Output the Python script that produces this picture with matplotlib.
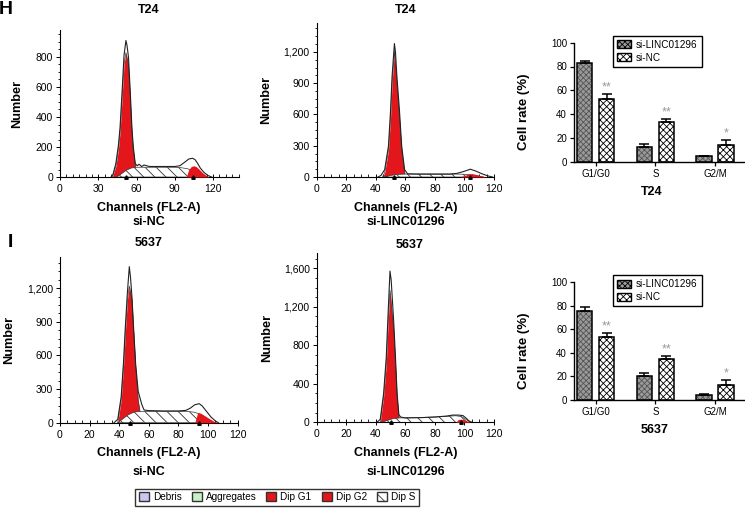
import matplotlib as mpl
mpl.use('Agg')
import matplotlib.pyplot as plt
import matplotlib.ticker as mticker
from matplotlib.patches import Patch
import numpy as np

plt.rcParams['font.family'] = ['Liberation Sans', 'DejaVu Sans']
plt.rcParams['hatch.linewidth'] = 0.6

# %% Data
# T24 si-NC histogram
t24_nc_total_x = [40, 41.5, 43.8, 45.8, 47.1, 48.7, 50.2, 51.7, 52.5, 53.7, 55.1, 56.4, 57.5, 59, 60.5, 62, 64, 66, 70, 80, 90, 94, 98, 101, 104, 106, 108, 110, 113, 116, 119]
t24_nc_total_y = [0, 15, 90, 210, 330, 570, 810, 910, 880, 800, 570, 330, 200, 90, 75, 85, 70, 80, 70, 70, 70, 75, 100, 120, 125, 115, 90, 60, 30, 10, 0]
t24_nc_g1_x = [41, 43.8, 45.8, 47.1, 48.7, 50.2, 51.7, 53.7, 55.1, 56.4, 57.4, 59.2, 60.5]
t24_nc_g1_y = [0, 70, 184, 297, 524, 750, 830, 750, 524, 297, 184, 70, 0]
t24_nc_s_x = [44, 48, 52, 56, 60, 70, 80, 90, 95, 100, 105, 110, 113]
t24_nc_s_y = [0, 20, 45, 60, 65, 65, 65, 65, 62, 55, 40, 15, 0]
t24_nc_g2_x = [99, 101, 103, 105, 107, 109, 112, 115, 117]
t24_nc_g2_y = [0, 50, 70, 75, 68, 52, 27, 8, 0]

# T24 si-LINC01296 histogram
t24_si_total_x = [41.5, 43.5, 46, 48.6, 50, 51, 52.6, 53.3, 54.3, 56, 57.5, 59.5, 61.5, 70, 80, 90, 95, 100, 104, 108, 112, 116, 119]
t24_si_total_y = [0, 15, 70, 300, 640, 960, 1280, 1200, 960, 640, 300, 70, 30, 28, 28, 28, 35, 55, 75, 55, 30, 10, 0]
t24_si_g1_x = [44.5, 46, 48.6, 50, 51, 52.6, 54.3, 56, 57.5, 59.5, 60.5]
t24_si_g1_y = [0, 40, 258, 578, 897, 1210, 897, 578, 258, 40, 0]
t24_si_s_x = [45, 50, 55, 60, 80, 95, 100, 105, 110, 113]
t24_si_s_y = [0, 15, 25, 28, 28, 28, 26, 20, 8, 0]
t24_si_g2_x = [97, 100, 103, 106, 109, 112, 115]
t24_si_g2_y = [0, 15, 30, 30, 20, 8, 0]

# 5637 si-NC histogram
c5637_nc_total_x = [36.5, 39, 41.3, 42.9, 44.1, 45.5, 46.8, 47.6, 48.6, 49.8, 51.1, 52.8, 53.8, 55.3, 56.8, 60, 70, 80, 85, 88, 91, 94, 96, 99, 102, 105, 107]
c5637_nc_total_y = [0, 30, 230, 540, 850, 1160, 1393, 1300, 1120, 820, 520, 280, 232, 160, 113, 108, 105, 105, 110, 130, 160, 170, 150, 100, 50, 15, 0]
c5637_nc_g1_x = [39, 41.3, 42.9, 44.1, 45.5, 46.8, 48.6, 49.8, 51.1, 52.8, 54, 55.5]
c5637_nc_g1_y = [0, 202, 500, 798, 1095, 1220, 1095, 798, 500, 202, 100, 0]
c5637_nc_s_x = [39, 42, 46, 50, 54, 60, 70, 80, 86, 90, 94, 98, 101, 104]
c5637_nc_s_y = [0, 30, 70, 95, 100, 100, 100, 100, 100, 95, 80, 50, 20, 0]
c5637_nc_g2_x = [91, 93, 95, 98, 101, 104, 107]
c5637_nc_g2_y = [0, 90, 85, 60, 35, 12, 0]

# 5637 si-LINC01296 histogram
c5637_si_total_x = [40.7, 43, 45.3, 47.1, 48.1, 49.6, 50.4, 52.1, 53.3, 54.4, 55.6, 56.8, 58.3, 60, 70, 80, 88, 92, 96, 99, 101, 103, 105]
c5637_si_total_y = [0, 30, 300, 680, 1050, 1571, 1480, 1050, 680, 300, 80, 55, 50, 45, 48, 55, 65, 75, 75, 70, 45, 15, 0]
c5637_si_g1_x = [43, 45.3, 47.1, 48.1, 49.6, 52.1, 53.3, 54.4, 55.6, 56.8]
c5637_si_g1_y = [0, 266, 612, 958, 1374, 958, 612, 266, 59, 0]
c5637_si_s_x = [44, 48, 52, 56, 60, 70, 80, 88, 94, 98, 101, 104]
c5637_si_s_y = [0, 20, 40, 45, 47, 50, 55, 62, 68, 60, 30, 0]
c5637_si_g2_x = [94, 96, 98, 100, 102, 104]
c5637_si_g2_y = [0, 30, 32, 25, 12, 0]

# peak markers on the channel axis
t24_nc_peaks = [52, 104]
t24_si_peaks = [52, 104]
c5637_nc_peaks = [47, 94]
c5637_si_peaks = [50, 98]

# bar charts
phases = ['G1/G0', 'S', 'G2/M']
t24_linc = [83, 12.5, 4.5]
t24_linc_err = [2, 2.5, 0.5]
t24_nc = [53, 33, 14]
t24_nc_err = [4, 3, 4]
c5637_linc = [75.5, 20.5, 4]
c5637_linc_err = [3.5, 2.5, 1]
c5637_nc = [53, 35, 13]
c5637_nc_err = [3.5, 2.5, 4]
stars = ['**', '**', '*']

RED = '#e2161b'
W, H = 745, 509


def rect(x, y_bottom, w, h):
    return [x / W, 1 - y_bottom / H, w / W, h / H]


def hist_panel(ax, tx, ty, g1x, g1y, sx, sy, g2x, g2y, peaks, xmax, ymax, xmaj, ymaj):
    ax.fill_between(g1x, g1y, color=RED, lw=0, zorder=2)
    ax.plot(g1x, g1y, color='#444444', lw=0.5, zorder=2)
    ax.fill_between(sx, sy, facecolor='white', edgecolor='#333333', hatch='\\\\\\', lw=0.5, zorder=3)
    ax.fill_between(g2x, g2y, color=RED, lw=0, zorder=4)
    ax.plot(tx, ty, color='#222222', lw=0.8, zorder=5)
    ax.plot(peaks, [0] * len(peaks), marker='^', ls='none', color='black', ms=2.5,
            zorder=6, clip_on=False)
    ax.set_xlim(0, xmax)
    ax.set_ylim(0, ymax)
    ax.xaxis.set_major_locator(mticker.MultipleLocator(xmaj))
    ax.xaxis.set_minor_locator(mticker.MultipleLocator(5))
    ax.yaxis.set_major_locator(mticker.MultipleLocator(ymaj))
    ax.yaxis.set_minor_locator(mticker.AutoMinorLocator(4))
    ax.yaxis.set_major_formatter(mticker.StrMethodFormatter('{x:,.0f}'))
    for s in ['top', 'right']:
        ax.spines[s].set_visible(False)
    ax.spines['left'].set_linewidth(0.8)
    ax.spines['bottom'].set_linewidth(0.8)
    ax.tick_params(axis='x', which='major', direction='inout', length=4, width=0.7, labelsize=7.5, pad=3)
    ax.tick_params(axis='x', which='minor', direction='in', length=2.5, width=0.6)
    ax.tick_params(axis='y', which='major', direction='out', length=3, width=0.7, labelsize=7.5, pad=2)
    ax.tick_params(axis='y', which='minor', direction='out', length=1.5, width=0.6)
    ax.set_ylabel('Number', fontsize=9.2, fontweight='bold')


def bar_panel(ax, linc, linc_err, nc, nc_err):
    x = np.arange(len(phases))
    off, bw = 0.184, 0.26
    ax.bar(x - off, linc, bw, facecolor='#9a9a9a', edgecolor='#555555', hatch='xxxxxx', lw=0, zorder=2)
    ax.bar(x - off, linc, bw, fill=False, edgecolor='black', lw=1.1, zorder=3)
    ax.bar(x + off, nc, bw, facecolor='white', edgecolor='black', hatch='xxxxx', lw=0, zorder=2)
    ax.bar(x + off, nc, bw, fill=False, edgecolor='black', lw=1.1, zorder=3)
    ax.errorbar(x - off, linc, yerr=[[0] * 3, linc_err], fmt='none', ecolor='black',
                elinewidth=1.1, capsize=3.5, capthick=1.1, zorder=4)
    ax.errorbar(x + off, nc, yerr=[[0] * 3, nc_err], fmt='none', ecolor='black',
                elinewidth=1.1, capsize=3.5, capthick=1.1, zorder=4)
    for xi, v, e, s in zip(x, nc, nc_err, stars):
        ax.text(xi + off, v + e + 0.5, s, ha='center', va='bottom', fontsize=9, color='#999999')
    ax.set_xlim(-0.36, 2.5)
    ax.set_ylim(0, 100)
    ax.set_xticks(x)
    ax.set_xticklabels(phases)
    ax.yaxis.set_major_locator(mticker.MultipleLocator(20))
    for s in ['top', 'right']:
        ax.spines[s].set_visible(False)
    ax.spines['left'].set_linewidth(1.0)
    ax.spines['bottom'].set_linewidth(1.0)
    ax.tick_params(axis='both', direction='out', length=3, width=0.9, labelsize=7, pad=2)
    ax.set_ylabel('Cell rate (%)', fontsize=9.5, fontweight='bold')
    ax.yaxis.set_label_coords(-0.257, 0.42)
    handles = [Patch(facecolor='#9a9a9a', edgecolor='black', hatch='xxxxxx', label='si-LINC01296'),
               Patch(facecolor='white', edgecolor='black', hatch='xxxxx', label='si-NC')]
    ax.legend(handles=handles, loc='upper left', bbox_to_anchor=(0.2, 1.1), fontsize=7.2,
              frameon=True, fancybox=False, edgecolor='black', handlelength=1.4, handleheight=0.9,
              handletextpad=0.5, borderpad=0.4, labelspacing=0.3, framealpha=1)


fig = plt.figure(figsize=(7.45, 5.09), dpi=100)

ax1 = fig.add_axes(rect(60, 177, 178.5, 147))
hist_panel(ax1, t24_nc_total_x, t24_nc_total_y, t24_nc_g1_x, t24_nc_g1_y, t24_nc_s_x, t24_nc_s_y,
           t24_nc_g2_x, t24_nc_g2_y, t24_nc_peaks, 140, 980, 30, 200)
ax1.yaxis.set_label_coords(-0.207, 0.5)

ax2 = fig.add_axes(rect(316.7, 177, 177.3, 154.3))
hist_panel(ax2, t24_si_total_x, t24_si_total_y, t24_si_g1_x, t24_si_g1_y, t24_si_s_x, t24_si_s_y,
           t24_si_g2_x, t24_si_g2_y, t24_si_peaks, 120, 1480, 20, 300)
ax2.yaxis.set_label_coords(-0.252, 0.5)

ax3 = fig.add_axes(rect(60, 422.7, 177.7, 166))
hist_panel(ax3, c5637_nc_total_x, c5637_nc_total_y, c5637_nc_g1_x, c5637_nc_g1_y, c5637_nc_s_x, c5637_nc_s_y,
           c5637_nc_g2_x, c5637_nc_g2_y, c5637_nc_peaks, 120, 1482, 20, 300)
ax3.yaxis.set_label_coords(-0.253, 0.5)

ax4 = fig.add_axes(rect(316.7, 422.3, 177.3, 169))
hist_panel(ax4, c5637_si_total_x, c5637_si_total_y, c5637_si_g1_x, c5637_si_g1_y, c5637_si_s_x, c5637_si_s_y,
           c5637_si_g2_x, c5637_si_g2_y, c5637_si_peaks, 120, 1756, 20, 400)
ax4.yaxis.set_label_coords(-0.245, 0.5)

ax5 = fig.add_axes(rect(574, 161.7, 171, 119))
bar_panel(ax5, t24_linc, t24_linc_err, t24_nc, t24_nc_err)

ax6 = fig.add_axes(rect(574, 400, 171, 118))
bar_panel(ax6, c5637_linc, c5637_linc_err, c5637_nc, c5637_nc_err)


def ftext(x, y, s, size=9, **kw):
    fig.text(x / W, 1 - y / H, s, ha='center', va='center', fontsize=size, fontweight='bold', **kw)


ftext(6, 10, 'H', 14)
ftext(10, 243, 'I', 14)
ftext(149, 10, 'T24')
ftext(406, 10, 'T24')
ftext(149, 243, '5637')
ftext(410, 245, '5637')
ftext(149, 208, 'Channels (FL2-A)')
ftext(149, 222, 'si-NC')
ftext(406, 208, 'Channels (FL2-A)')
ftext(406, 222, 'si-LINC01296')
ftext(149, 453, 'Channels (FL2-A)')
ftext(149, 472, 'si-NC')
ftext(406, 453, 'Channels (FL2-A)')
ftext(406, 472, 'si-LINC01296')
ftext(652, 192, 'T24')
ftext(655, 430, '5637')

leg_handles = [Patch(facecolor='#c8c8f2', edgecolor='#333333', label='Debris'),
               Patch(facecolor='#c8f0c8', edgecolor='#333333', label='Aggregates'),
               Patch(facecolor=RED, edgecolor='#333333', label='Dip G1'),
               Patch(facecolor=RED, edgecolor='#333333', label='Dip G2'),
               Patch(facecolor='white', edgecolor='#333333', hatch='\\\\', label='Dip S')]
fig.legend(handles=leg_handles, loc='center', bbox_to_anchor=(277 / W, 1 - 497 / H), ncol=5,
           fontsize=7.2, frameon=True, fancybox=False, edgecolor='#333333', handlelength=1.0,
           handleheight=0.9, handletextpad=0.4, columnspacing=1.0, borderpad=0.35, framealpha=1)

plt.savefig('out.png', dpi=100)
